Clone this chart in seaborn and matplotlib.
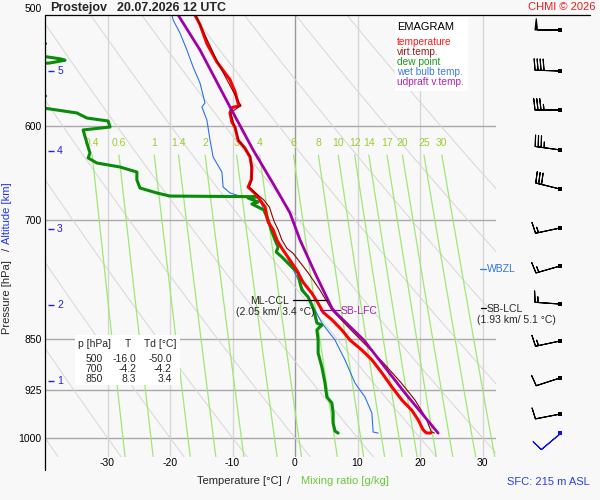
import numpy as np
import pandas as pd
import matplotlib
matplotlib.use("Agg")
import matplotlib.pyplot as plt
import matplotlib.transforms as mtransforms
from matplotlib.lines import Line2D
from matplotlib.patches import Rectangle
import seaborn as sns

# ---------------- data ----------------
station = "Prostejov"
valid_time = "20.07.2026 12 UTC"

temp_p = [500, 508, 524, 540, 556, 567, 578, 580, 582, 587, 596, 601, 614, 622, 631, 642,
          655, 663, 668, 672, 677, 685, 696, 702, 711, 723, 733, 744, 760, 775, 789, 802,
          814, 824, 838, 852, 866, 880, 899, 920, 940, 956, 971, 987, 992, 992.3]
temp_t = [-16.0, -15.2, -14.1, -12.5, -10.4, -9.6, -9.1, -8.8, -10.1, -10.4, -10.1, -9.6,
          -9.1, -8.0, -7.2, -6.9, -7.0, -7.5, -6.7, -6.1, -5.6, -4.8, -4.5, -4.3, -3.5,
          -2.9, -2.1, -1.1, 0.3, 1.3, 2.7, 3.7, 4.5, 5.9, 7.5, 8.8, 10.7, 12.3, 13.9, 15.5,
          17.1, 18.7, 19.7, 20.5, 21.0, 21.7]

virt_p = [500, 540, 580, 587, 614, 631, 655, 663, 669, 677, 685, 696, 702, 711, 723, 733,
          739, 763, 785, 811, 834, 856, 885, 914, 940, 967, 990, 992.3]
virt_t = [-15.9, -12.4, -8.7, -10.3, -9.0, -7.1, -6.9, -7.3, -6.4, -5.0, -4.1, -3.6, -3.3,
          -2.7, -2.1, -1.3, -0.3, 2.1, 4.0, 5.9, 8.5, 11.0, 14.2, 17.0, 19.2, 20.9, 21.8, 22.3]

dew_p = [500, 515, 524, 527, 533, 535.6, 537.3, 538.5, 540.9, 544, 560, 568, 571, 574, 580,
         583.3, 587.1, 592.0, 594.9, 600.8, 603.7, 616.7, 627.0, 632.1, 637.3, 641.5, 646.8,
         655.3, 664.0, 669.4, 672.8, 673.5, 675.0, 679.4, 681.6, 688.3, 699.7, 711.3, 723.0,
         731.4, 737.4, 743.5, 755.8, 763.2, 775.9, 784.9, 793.9, 804.4, 811.0, 828.5, 831.2,
         838.0, 851.9, 870.3, 890.5, 914.2, 935.4, 944.6, 960.3, 976.2, 989.0, 992.3]
dew_t = [-50.0, -46.0, -39.9, -44.0, -42.0, -39.6, -37.5, -36.8, -39.2, -46.0, -48.0, -43.0,
         -39.9, -44.0, -43.0, -39.2, -34.9, -33.3, -29.9, -29.6, -33.9, -33.3, -32.8, -33.1,
         -31.7, -28.0, -25.3, -25.3, -24.8, -22.1, -20.0, -6.1, -7.5, -5.9, -6.9, -5.0, -4.3,
         -3.8, -3.2, -2.7, -3.0, -2.1, -0.5, 0.5, 0.8, 1.1, 2.1, 2.7, 3.0, 3.5, 4.3, 3.5, 3.7,
         3.7, 4.3, 4.8, 5.1, 5.9, 6.1, 6.1, 6.4, 6.9]

wetbulb_p = [500, 504.1, 515.0, 529.5, 544.5, 559.0, 577.6, 581.4, 593.9, 613.7, 631.1, 646.8,
             662.9, 669.4, 672.8, 673.9, 682.7, 699.7, 711.3, 723.0, 738.6, 781.0, 811.0,
             828.5, 851.9, 880.3, 914.2, 935.4, 960.3, 990.6, 992.3]
wetbulb_t = [-19.7, -19.5, -18.4, -17.3, -16.3, -15.2, -14.4, -14.9, -14.1, -13.6, -13.1,
             -11.7, -11.5, -10.4, -8.8, -6.1, -5.3, -4.4, -3.7, -3.0, -1.6, 1.1, 3.2, 4.3,
             6.4, 8.0, 9.6, 11.2, 12.3, 12.5, 13.3]

parcel_p = [500, 529.5, 581.4, 623.8, 666.2, 691.7, 723.0, 763.2, 808.3, 813.6, 851.9, 929.3, 992.3]
parcel_t = [-18.7, -15.2, -10.4, -6.7, -2.9, -0.8, 0.8, 3.2, 5.9, 6.4, 11.0, 17.6, 22.9]

wind_p = [512.4, 548.1, 584.3, 623.8, 665.1, 709.0, 754.6, 803.1, 853.3, 906.6, 961.9]
wind_dir = [270, 272, 270, 278, 284, 258, 254, 274, 258, 252, 259]
wind_kt = [50, 40, 35, 35, 30, 15, 15, 15, 15, 10, 10]
sfc_wind_p = [992.3]
sfc_wind_dir = [230]
sfc_wind_kt = [10]

altitude_km = [1, 2, 3, 4, 5]
altitude_p = [911.1, 804.4, 710.2, 625.0, 548.1]

mixing_ratios = [0.4, 0.6, 1, 1.4, 2, 3, 4, 6, 8, 10, 12, 14, 17, 20, 25, 30]
theta_lines = list(range(-40, 71, 10))
pressure_ticks = [500, 600, 700, 850, 925, 1000]
temp_ticks = [-30, -20, -10, 0, 10, 20, 30]

table_p = [500, 700, 850]
table_t = [-16.0, -4.2, 8.3]
table_td = [-50.0, -4.2, 3.4]

legend_items = ["temperature", "virt.temp.", "dew point", "wet bulb temp.", "udpraft v.temp."]
legend_colors = ["#ff1a1a", "#a01818", "#1a961a", "#3a7ae8", "#b020b8"]

# ---------------- layout ----------------
sns.set_theme(style="white")
plt.rcParams["font.family"] = ["Liberation Sans", "DejaVu Sans"]

W, H = 600, 500
BG = "#f8f8f8"
L, R, T, B = 45, 496, 15, 457
P_TOP, P_BOT = 500.0, 1032.0
X_MIN, X_MAX = -40.0, 32.16


def p_of_y(y):
    return 500.0 * np.exp((y - 15) / 610.0)


def t_of_x(x):
    return (x - 295) / 6.25


def fig_xy(px, py):
    return px / W, 1 - py / H


fig = plt.figure(figsize=(6, 5), dpi=100, facecolor=BG)
ax = fig.add_axes([L / W, 1 - B / H, (R - L) / W, (B - T) / H])
ax.set_facecolor(BG)
ax.set_yscale("log")
ax.set_ylim(P_BOT, P_TOP)
ax.set_xlim(X_MIN, X_MAX)
for s in ax.spines.values():
    s.set_visible(False)

# grid
for t in temp_ticks:
    ax.axvline(t, color="#9a9a9a" if t == 0 else "#d6d6d6", lw=1.0, zorder=1)
for p in pressure_ticks[1:]:
    ax.axhline(p, color="#a9a9a9", lw=1.0, zorder=1)

# dry adiabats
pp = np.geomspace(P_TOP, P_BOT, 120)
for th in theta_lines:
    ax.plot((th + 273.15) * (pp / 1000.0) ** 0.286 - 273.15, pp, color="#d6d6d6", lw=0.7, zorder=1)

# mixing ratio lines
pm = np.geomspace(629, P_BOT, 60)
for w in mixing_ratios:
    e = w * pm / (622.0 + w)
    lg = np.log(e / 6.112)
    tm = 243.5 * lg / (17.67 - lg)
    ax.plot(tm, pm, color="#9ee874", lw=0.9, zorder=2)
    lbl = f"{w:g}"
    ax.text(tm[0], p_of_y(146.5), lbl, color="#9acd32", fontsize=7.5, ha="center", va="baseline", zorder=2)

# profiles
sns.lineplot(x=wetbulb_t, y=wetbulb_p, sort=False, estimator=None, color="#2a72ee", lw=0.8, ax=ax, zorder=4)
sns.lineplot(x=dew_t, y=dew_p, sort=False, estimator=None, color="#0a8c0a", lw=2.2, ax=ax, zorder=5)
sns.lineplot(x=temp_t, y=temp_p, sort=False, estimator=None, color="#ff0000", lw=2.2, ax=ax, zorder=6)
sns.lineplot(x=virt_t, y=virt_p, sort=False, estimator=None, color="#8b0000", lw=0.8, ax=ax, zorder=7)
sns.lineplot(x=parcel_t, y=parcel_p, sort=False, estimator=None, color="#a000a8", lw=2.0, ax=ax, zorder=8)

# ticks
ax.set_yticks(pressure_ticks)
ax.set_yticklabels([str(p) for p in pressure_ticks])
ax.yaxis.set_minor_locator(matplotlib.ticker.NullLocator())
ax.set_xticks(temp_ticks)
ax.set_xticklabels([str(t) for t in temp_ticks])
ax.tick_params(axis="y", length=0, pad=2.4, labelsize=7.5, colors="black")
ax.tick_params(axis="x", length=0, pad=0.8, labelsize=7.5, colors="black")
ax.set_xlabel("")
ax.set_ylabel("")
first = ax.yaxis.get_major_ticks()[0].label1
first.set_transform(first.get_transform() + mtransforms.ScaledTranslation(0, 7 / 100, fig.dpi_scale_trans))

# altitude markers
ax.hlines(altitude_p, t_of_x(48), t_of_x(53.5), color="#2020ee", lw=1.0, zorder=3)
for km, p in zip(altitude_km, altitude_p):
    ax.text(t_of_x(60), p, str(km), color="#2020ee", fontsize=7.5, ha="center", va="center", zorder=3)

# annotations
ax.plot([t_of_x(293), t_of_x(327)], [p_of_y(300)] * 2, color="black", lw=0.9, zorder=9)
ax.text(t_of_x(288.5), p_of_y(304.5), "ML-CCL", fontsize=7.5, ha="right", va="baseline", zorder=9)
ax.text(t_of_x(315), p_of_y(315.5), "(2.05 km/ 3.4 °C)", fontsize=7.5, ha="right", va="baseline", zorder=9)
ax.plot([t_of_x(320), t_of_x(340)], [p_of_y(310)] * 2, color="#a000a8", lw=0.9, zorder=9)
ax.text(t_of_x(341), p_of_y(314.5), "SB-LFC", fontsize=7.5, color="#aa22aa", ha="left", va="baseline", zorder=9)
ax.plot([t_of_x(480), t_of_x(486)], [p_of_y(269)] * 2, color="#3377dd", lw=0.9, zorder=9, clip_on=False)
ax.text(t_of_x(487), p_of_y(272.5), "WBZL", fontsize=7.5, color="#3377dd", ha="left", va="baseline", zorder=9)
ax.plot([t_of_x(481), t_of_x(486)], [p_of_y(308)] * 2, color="black", lw=0.9, zorder=9, clip_on=False)
ax.text(t_of_x(487), p_of_y(312.5), "SB-LCL", fontsize=7.5, ha="left", va="baseline", zorder=9)
ax.text(t_of_x(477), p_of_y(323.5), "(1.93 km/ 5.1 °C)", fontsize=7.5, ha="left", va="baseline", zorder=9)

# wind barbs
ax2 = fig.add_axes([R / W, 1 - B / H, (W - R) / W, (B - T) / H])
ax2.set_xlim(R, W)
ax2.set_yscale("log")
ax2.set_ylim(P_BOT, P_TOP)
ax2.axis("off")
ax2.patch.set_alpha(0)
bx = 560


def uv(d, s):
    r = np.deg2rad(np.array(d, float))
    s = np.array(s, float)
    return -s * np.sin(r), -s * np.cos(r)


u, v = uv(wind_dir, wind_kt)
bsize = dict(spacing=0.12, height=0.45, width=0.1)
ax2.barbs(np.full(len(wind_p), bx), wind_p, u, v, length=6.0, pivot="tip", sizes=bsize,
          linewidth=0.8, color="black")
ax2.scatter(np.full(len(wind_p), bx), wind_p, marker="s", s=5, color="black", linewidths=0, zorder=5)
us, vs = uv(sfc_wind_dir, sfc_wind_kt)
ax2.barbs([bx], sfc_wind_p, us, vs, length=6.0, pivot="tip", sizes=bsize, linewidth=0.8, color="#1010ee")
ax2.scatter([bx], sfc_wind_p, marker="s", s=5, color="#1010ee", linewidths=0, zorder=5)

# frame lines
fig.add_artist(Line2D([L / W, 590 / W], [1 - T / H] * 2, color="black", lw=0.9))
fig.add_artist(Line2D([L / W] * 2, [1 - T / H, 1 - 470 / H], color="black", lw=0.9))

# white boxes
for (x0, y0, x1, y1) in [(395, 17, 468, 91), (75, 335, 180, 385)]:
    fig.add_artist(Rectangle(fig_xy(x0, y1), (x1 - x0) / W, (y1 - y0) / H,
                             transform=fig.transFigure, facecolor="white", edgecolor="none", zorder=2))

# legend
fig.text(*fig_xy(397, 30.5), "EMAGRAM", fontsize=8, ha="left", va="baseline", color="black", zorder=4)
for i, (name, col) in enumerate(zip(legend_items, legend_colors)):
    fig.text(*fig_xy(397, 45.3 + 10 * i), name, fontsize=7.3, ha="left", va="baseline", color=col, zorder=4)

# table
fig.text(*fig_xy(78, 347), "p [hPa]", fontsize=7.5, ha="left", va="baseline", zorder=4)
fig.text(*fig_xy(127.7, 347), "T", fontsize=7.5, ha="center", va="baseline", zorder=4)
fig.text(*fig_xy(144, 347), "Td [°C]", fontsize=7.5, ha="left", va="baseline", zorder=4)
for i, (p, t, td) in enumerate(zip(table_p, table_t, table_td)):
    yb = 361.7 + 10.3 * i
    fig.text(*fig_xy(102.5, yb), f"{p}", fontsize=7.5, ha="right", va="baseline", zorder=4)
    fig.text(*fig_xy(136.5, yb), f"{t:.1f}", fontsize=7.5, ha="right", va="baseline", zorder=4)
    fig.text(*fig_xy(172, yb), f"{td:.1f}", fontsize=7.5, ha="right", va="baseline", zorder=4)

# titles and axis labels
fig.text(*fig_xy(50, 11), station, fontsize=9, fontweight="bold", ha="left", va="baseline")
fig.text(*fig_xy(117, 11), valid_time, fontsize=9, fontweight="bold", ha="left", va="baseline")
fig.text(*fig_xy(596, 10), "CHMI © 2026", fontsize=8, color="#ee1c1c", ha="right", va="baseline")
fig.text(*fig_xy(7.5, 297.5), "Pressure [hPa]", fontsize=8, rotation=90, ha="center", va="center")
fig.text(*fig_xy(7.5, 249.5), "/", fontsize=8, rotation=90, ha="center", va="center")
fig.text(*fig_xy(7.5, 213), "Altitude [km]", fontsize=8, rotation=90, ha="center", va="center", color="#2233ee")
fig.text(*fig_xy(239.5, 483.5), "Temperature [°C]", fontsize=8, ha="center", va="baseline")
fig.text(*fig_xy(289, 483.5), "/", fontsize=8, ha="center", va="baseline")
fig.text(*fig_xy(344.5, 483.5), "Mixing ratio [g/kg]", fontsize=8, ha="center", va="baseline", color="#6cc83c")
fig.text(*fig_xy(589.5, 485), "SFC: 215 m ASL", fontsize=8, ha="right", va="baseline", color="#2a3ee6")

fig.savefig("out.png", dpi=100, facecolor=BG)
